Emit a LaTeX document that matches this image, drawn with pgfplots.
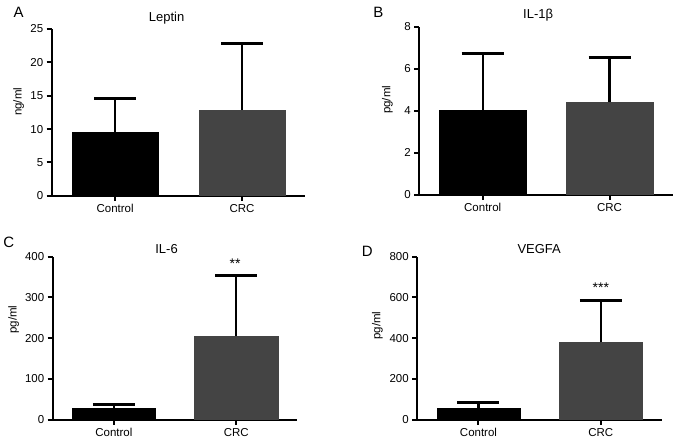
\documentclass[border=0pt]{standalone}
\usepackage{fontspec}
\setmainfont{Liberation Sans}
\usepackage{pgfplots}
\pgfplotsset{compat=1.18}
\definecolor{crcgray}{RGB}{68,68,68}
\pgfplotsset{
 prism/.style={
  scale only axis,
  axis lines=left,
  axis line style={line width=2pt,-},
  xmin=-0.5, xmax=1.5,
  ymin=0,
  xtick={0,1}, xticklabels={Control,CRC},
  tick style={line width=2pt, black},
  tick align=outside,
  major tick length=5pt,
  tick label style={font=\fontsize{11.5}{13}\selectfont},
  /pgf/number format/assume math mode=true,
  ybar, bar width=0.68,
 },
 eb/.style={error bars/.cd, y dir=plus, y explicit,
   error bar style={line width=2.4pt, black},
   error mark=|,
   error mark options={line width=2.4pt, black, mark size=21pt}},
}
\begin{document}
\begin{tikzpicture}
\path (0pt,0pt) rectangle (677pt,-441pt);
% A
\begin{axis}[prism, at={(51pt,-196pt)}, anchor=south west, width=254pt, height=167pt,
  ymax=25, ytick={0,5,10,15,20,25}]
\addplot[bar shift=0pt, fill=black, draw=black, eb] coordinates {(0,9.5) +- (0,5.05)};
\addplot[bar shift=0pt, fill=crcgray, draw=crcgray, eb] coordinates {(1,12.9) +- (0,9.9)};
\end{axis}
% B
\begin{axis}[prism, at={(419pt,-195pt)}, anchor=south west, width=254pt, height=168pt,
  ymax=8, ytick={0,2,4,6,8}]
\addplot[bar shift=0pt, fill=black, draw=black, eb] coordinates {(0,4.05) +- (0,2.68)};
\addplot[bar shift=0pt, fill=crcgray, draw=crcgray, eb] coordinates {(1,4.4) +- (0,2.15)};
\end{axis}
% C
\begin{axis}[prism, at={(52pt,-420pt)}, anchor=south west, width=245pt, height=163pt,
  ymax=400, ytick={0,100,200,300,400}]
\addplot[bar shift=0pt, fill=black, draw=black, eb] coordinates {(0,28.7) +- (0,8.3)};
\addplot[bar shift=0pt, fill=crcgray, draw=crcgray, eb] coordinates {(1,205) +- (0,149)};
\node[font=\fontsize{14}{15}\selectfont, anchor=north, inner sep=0pt] at (axis cs:0.99,396) {**};
\end{axis}
% D
\begin{axis}[prism, at={(417pt,-420pt)}, anchor=south west, width=245pt, height=163pt,
  ymax=800, ytick={0,200,400,600,800}]
\addplot[bar shift=0pt, fill=black, draw=black, eb] coordinates {(0,57) +- (0,26)};
\addplot[bar shift=0pt, fill=crcgray, draw=crcgray, eb] coordinates {(1,380) +- (0,204)};
\node[font=\fontsize{14}{15}\selectfont, anchor=north, inner sep=0pt] at (axis cs:1.0,674) {***};
\end{axis}
% titles
\node[font=\fontsize{13}{15}\selectfont] at (166pt,-18pt) {Leptin};
\node[font=\fontsize{13}{15}\selectfont] at (538pt,-15pt) {IL-1β};
\node[font=\fontsize{13}{15}\selectfont] at (166pt,-249pt) {IL-6};
\node[font=\fontsize{13}{15}\selectfont] at (539pt,-249pt) {VEGFA};
% panel letters
\node[font=\fontsize{15}{17}\selectfont] at (18pt,-12pt) {A};
\node[font=\fontsize{15}{17}\selectfont] at (378pt,-12pt) {B};
\node[font=\fontsize{15}{17}\selectfont] at (8pt,-243pt) {C};
\node[font=\fontsize{15}{17}\selectfont] at (367pt,-252pt) {D};
% y labels
\node[rotate=90, font=\fontsize{11.5}{13}\selectfont] at (18pt,-102pt) {ng/ml};
\node[rotate=90, font=\fontsize{11.5}{13}\selectfont] at (387pt,-100pt) {pg/ml};
\node[rotate=90, font=\fontsize{11.5}{13}\selectfont] at (13pt,-320pt) {pg/ml};
\node[rotate=90, font=\fontsize{11.5}{13}\selectfont] at (377pt,-326pt) {pg/ml};
\end{tikzpicture}
\end{document}
